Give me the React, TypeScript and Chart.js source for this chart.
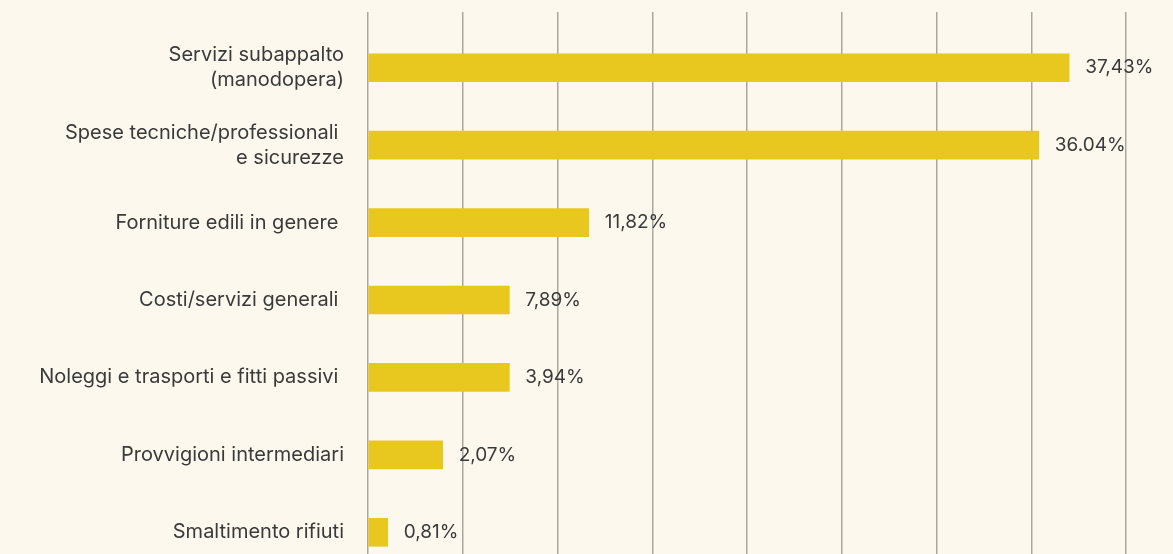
import React, { useEffect, useRef } from 'react';
import { Chart, registerables } from 'chart.js';

Chart.register(...registerables);

const categories: (string | string[])[] = [
  ['Servizi subappalto', '(manodopera)'],
  ['Spese tecniche/professionali ', 'e sicurezze'],
  'Forniture edili in genere ',
  'Costi/servizi generali ',
  'Noleggi e trasporti e fitti passivi ',
  'Provvigioni intermediari',
  'Smaltimento rifiuti',
];

// bar lengths (axis units)
const barValues = [37.0, 35.4, 11.65, 7.46, 7.46, 3.94, 1.04];

// printed value labels
const valueLabels = ['37,43%', '36.04%', '11,82%', '7,89%', '3,94%', '2,07%', '0,81%'];

const xMin = 0;
const xMax = 40;
const xStep = 5;

const BG = '#fcf8ed';
const BAR = '#e8c81f';
const GRID = '#aaa79f';
const TEXT = '#3a3a3a';

const valueLabelPlugin = {
  id: 'valueLabels',
  afterDatasetsDraw(chart: any) {
    const { ctx } = chart;
    const meta = chart.getDatasetMeta(0);
    ctx.save();
    ctx.font = '19px Inter';
    ctx.fillStyle = TEXT;
    ctx.textAlign = 'left';
    ctx.textBaseline = 'middle';
    meta.data.forEach((el: any, i: number) => {
      ctx.fillText(valueLabels[i], el.x + 16, el.y);
    });
    ctx.restore();
  },
};

const bgPlugin = {
  id: 'bgFill',
  beforeDraw(chart: any) {
    const { ctx, width, height } = chart;
    ctx.save();
    ctx.fillStyle = BG;
    ctx.fillRect(0, 0, width, height);
    ctx.restore();
  },
};

export default function App() {
  const ref = useRef<HTMLCanvasElement | null>(null);

  useEffect(() => {
    if (!ref.current) return;
    const chart = new Chart(ref.current, {
      type: 'bar',
      data: {
        labels: categories,
        datasets: [
          {
            data: barValues,
            backgroundColor: BAR,
            borderWidth: 0,
            barThickness: 28,
          },
        ],
      },
      options: {
        indexAxis: 'y',
        animation: false,
        responsive: false,
        layout: { padding: { top: 12, right: 47, bottom: 0, left: 0 } },
        plugins: {
          legend: { display: false },
          tooltip: { enabled: false },
        },
        scales: {
          x: {
            position: 'top',
            min: xMin,
            max: xMax,
            ticks: { display: false, stepSize: xStep },
            grid: {
              color: GRID,
              lineWidth: 1.5,
              drawTicks: true,
              tickLength: 17,
            },
            border: { display: false },
          },
          y: {
            grid: { display: false, drawTicks: true, tickLength: 24 },
            border: { display: false },
            ticks: {
              color: TEXT,
              padding: 0,
              font: { family: 'Inter', size: 20, lineHeight: 1.25 },
            },
            afterFit(scale: any) {
              scale.width = 368;
              scale.paddingTop = 0;
              scale.paddingBottom = 0;
            },
          },
        },
      },
      plugins: [bgPlugin, valueLabelPlugin],
    });
    return () => chart.destroy();
  }, []);

  return (
    <div
      style={{
        position: 'fixed',
        left: 0,
        top: 0,
        width: 1173,
        height: 554,
        overflow: 'hidden',
        background: BG,
      }}
    >
      <canvas ref={ref} width={1173} height={571} style={{ display: 'block' }} />
    </div>
  );
}
